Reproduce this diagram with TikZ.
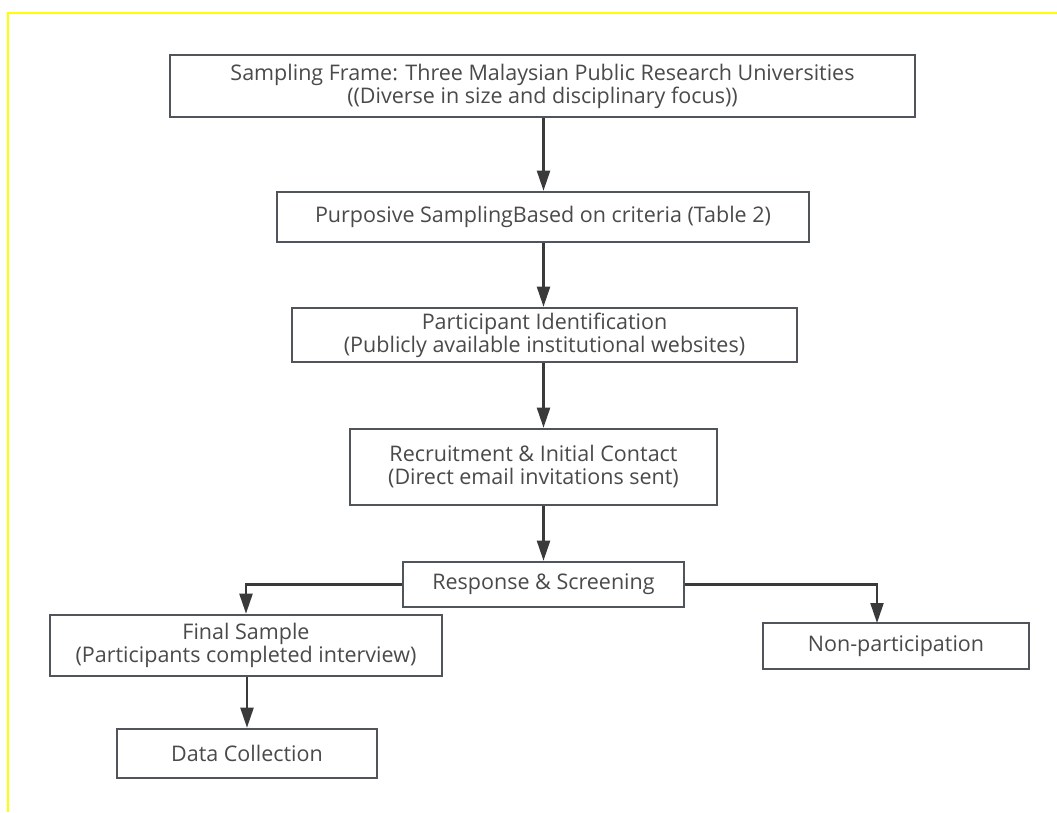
\documentclass[tikz,border=0pt]{standalone}
\usepackage{fontspec}
\setmainfont{Open Sans}
\usetikzlibrary{arrows.meta,calc}
\definecolor{boxline}{HTML}{50555B}
\definecolor{arrowline}{HTML}{3A3A3A}
\definecolor{txt}{HTML}{4A4A4A}
\definecolor{frameyellow}{HTML}{FFFF00}
\begin{document}
\begin{tikzpicture}[x=1pt,y=-1pt,
  box/.style={draw=boxline,line width=2.6pt,fill=white,inner sep=0pt,align=center,
    text=txt,font=\fontsize{21.5}{23}\selectfont},
  conn/.style={draw=arrowline,line width=2.2pt,-{Triangle[length=20pt,width=13pt]}}]
\useasboundingbox (0,0) rectangle (1057,812);
\draw[frameyellow,line width=2.5pt] (8,812) -- (8,13) -- (1057,13);
\node[box,minimum width=745,minimum height=62] (b1) at (542.5,86)
  {Sampling Frame: Three Malaysian Public Research Universities\\((Diverse in size and disciplinary focus))};
\node[box,minimum width=532,minimum height=50] (b2) at (543,217)
  {Purposive SamplingBased on criteria (Table 2)};
\node[box,minimum width=505,minimum height=54] (b3) at (544.5,335)
  {Participant Identification\\(Publicly available institutional websites)};
\node[box,minimum width=367,minimum height=76] (b4) at (533.5,467)
  {Recruitment \& Initial Contact\\(Direct email invitations sent)};
\node[box,minimum width=281,minimum height=45] (b5) at (543.5,584.5)
  {Response \& Screening};
\node[box,minimum width=392,minimum height=61] (fs) at (246,645.5)
  {Final Sample\\(Participants completed interview)};
\node[box,minimum width=260,minimum height=49] (dc) at (247,753.5)
  {Data Collection};
\node[box,minimum width=266,minimum height=46] (np) at (896,646)
  {Non-participation};
\coordinate (npin) at (877,623);
\draw[conn] (b1.south -| b5.north) -- (b2.north -| b5.north);
\draw[conn] (b2.south -| b5.north) -- (b3.north -| b5.north);
\draw[conn] (b3.south -| b5.north) -- (b4.north -| b5.north);
\draw[conn] (b4.south -| b5.north) -- (b5.north);
\draw[conn] (b5.west) -| (fs.north);
\draw[conn] (b5.east) -| (npin);
\draw[conn] (fs.south -| dc.north) -- (dc.north);
\end{tikzpicture}
\end{document}
